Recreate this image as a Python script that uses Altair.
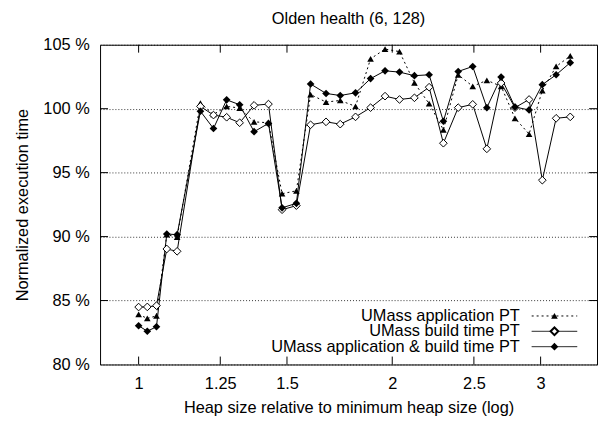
import altair as alt
import pandas as pd

heap = [1.0, 1.024, 1.05, 1.08, 1.111, 1.184, 1.227, 1.272, 1.318, 1.371, 1.426,
        1.48, 1.539, 1.60, 1.669, 1.735, 1.809, 1.885, 1.961, 2.04, 2.125, 2.212,
        2.30, 2.395, 2.492, 2.59, 2.693, 2.797, 2.907, 3.014, 3.13, 3.253]

app_pt = [83.92, 83.6, 83.8, 90.15, 89.95, 100.44, 99.55, 100.18, 100.05, 98.97, 98.9,
          93.35, 93.58, 101.1, 100.52, 100.64, 100.18, 103.9, 104.66, 104.46, 102.01, 100.39,
          98.35, 102.65, 101.75, 102.22, 101.75, 99.25, 98.02, 101.42, 103.3, 104.12]

build_pt = [84.49, 84.5, 84.6, 89.03, 88.85, 100.18, 99.5, 99.33, 98.9, 100.26, 100.36,
            92.1, 92.42, 98.74, 98.97, 98.79, 99.36, 100.08, 100.98, 100.72, 100.85, 101.68,
            97.3, 100.08, 100.34, 96.86, 102.01, 100.08, 100.72, 94.41, 99.25, 99.36]

both_pt = [83.03, 82.6, 82.95, 90.2, 90.15, 99.8, 98.45, 100.69, 100.31, 98.2, 98.85,
           92.25, 92.6, 101.93, 101.19, 101.03, 101.24, 102.35, 102.96, 102.86, 102.58, 102.65,
           99.02, 102.91, 103.3, 100.08, 102.47, 100.13, 99.9, 101.88, 102.65, 103.6]

names = ["UMass application PT", "UMass build time PT", "UMass application & build time PT"]
x_ticks = [1, 1.25, 1.5, 2, 2.5, 3]
y_ticks = [80, 85, 90, 95, 100, 105]

FONT = "Liberation Sans"
FS = 16.5
W, H = 502, 323

xscale = alt.Scale(type="log", domain=[0.9, 3.5], nice=False)
yscale = alt.Scale(domain=[80, 105], nice=False, zero=False)

X = alt.X("heap:Q", scale=xscale,
          axis=alt.Axis(values=x_ticks, format="~g", grid=False, tickSize=0, domain=False,
                        labelPadding=11, title="Heap size relative to minimum heap size (log)",
                        titlePadding=8))
Y = alt.Y("value:Q", scale=yscale,
          axis=alt.Axis(values=y_ticks, labelExpr="datum.value + ' %'", grid=True,
                        gridDash=[1, 2], gridColor="#000", gridOpacity=0.8, tickSize=0,
                        domain=False, labelPadding=11, title="Normalized execution time",
                        titlePadding=13))

def series_df(vals):
    return pd.DataFrame({"heap": heap, "value": vals})

app_line = alt.Chart(series_df(app_pt)).mark_line(color="#000", strokeWidth=1, strokeDash=[2, 3]).encode(x=X, y=Y)
app_pts = alt.Chart(series_df(app_pt)).mark_point(shape="triangle-up", filled=True, color="#000", size=45, opacity=1).encode(x="heap:Q", y="value:Q")

build_line = alt.Chart(series_df(build_pt)).mark_line(color="#000", strokeWidth=1).encode(x="heap:Q", y="value:Q")
build_pts = alt.Chart(series_df(build_pt)).mark_point(shape="diamond", filled=True, fill="#fff", stroke="#000", strokeWidth=1, size=60, opacity=1).encode(x="heap:Q", y="value:Q")

both_line = alt.Chart(series_df(both_pt)).mark_line(color="#000", strokeWidth=1).encode(x="heap:Q", y="value:Q")
both_pts = alt.Chart(series_df(both_pt)).mark_point(shape="diamond", filled=True, color="#000", size=60, opacity=1).encode(x="heap:Q", y="value:Q")

# inward ticks
xt = pd.DataFrame({"heap": x_ticks})
yt = pd.DataFrame({"value": [85, 90, 95, 100]})
tick_b = alt.Chart(xt).mark_rule(color="#000", strokeWidth=1).encode(x="heap:Q", y=alt.value(H), y2=alt.value(H - 8))
tick_t = alt.Chart(xt).mark_rule(color="#000", strokeWidth=1).encode(x="heap:Q", y=alt.value(0), y2=alt.value(8))
tick_l = alt.Chart(yt).mark_rule(color="#000", strokeWidth=1).encode(y="value:Q", x=alt.value(0), x2=alt.value(8))
tick_r = alt.Chart(yt).mark_rule(color="#000", strokeWidth=1).encode(y="value:Q", x=alt.value(W), x2=alt.value(W - 8))

# legend (inside, bottom right)
one = alt.Data(values=[{"a": 1}])
leg_rows = [274, 289.5, 305]
text_x, l0, l1, mx = 424, 436, 482, 459
legend_layers = []
for i, nm in enumerate(names):
    legend_layers.append(alt.Chart(one).mark_text(align="right", baseline="middle", fontSize=FS, font=FONT, color="#000")
                         .encode(x=alt.value(text_x), y=alt.value(leg_rows[i]), text=alt.value(nm)))
    rule = alt.Chart(one).mark_rule(color="#000", strokeWidth=1, strokeDash=[2, 3] if i == 0 else [1, 0])
    legend_layers.append(rule.encode(x=alt.value(l0), x2=alt.value(l1), y=alt.value(leg_rows[i])))
legend_layers.append(alt.Chart(one).mark_point(shape="triangle-up", filled=True, color="#000", size=45, opacity=1)
                     .encode(x=alt.value(mx), y=alt.value(leg_rows[0])))
legend_layers.append(alt.Chart(one).mark_point(shape="diamond", filled=True, fill="#fff", stroke="#000", size=60, opacity=1)
                     .encode(x=alt.value(mx), y=alt.value(leg_rows[1])))
legend_layers.append(alt.Chart(one).mark_point(shape="diamond", filled=True, color="#000", size=60, opacity=1)
                     .encode(x=alt.value(mx), y=alt.value(leg_rows[2])))

chart = alt.layer(
    app_line, build_line, both_line, app_pts, build_pts, both_pts,
    tick_b, tick_t, tick_l, tick_r, *legend_layers
).properties(
    width=W, height=H,
    title=alt.TitleParams("Olden health (6, 128)", fontSize=FS, fontWeight="normal", font=FONT,
                          anchor="middle", offset=9, color="#000"),
    autosize=alt.AutoSizeParams(type="none"),
    padding={"left": 93, "top": 35, "right": 2, "bottom": 56},
).configure_view(
    stroke="#000", strokeWidth=1
).configure_axis(
    labelFont=FONT, titleFont=FONT, labelFontSize=FS, titleFontSize=FS,
    labelColor="#000", titleColor="#000", titleFontWeight="normal"
)

chart.save("out.html", embed_options={"renderer": "svg", "actions": False})
